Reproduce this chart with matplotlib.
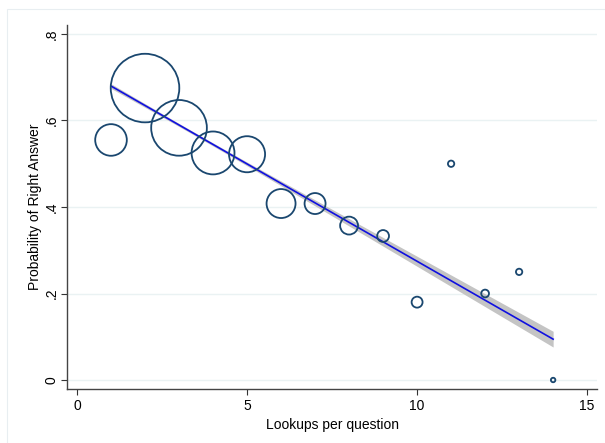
import numpy as np
import matplotlib
matplotlib.use("Agg")
import matplotlib.pyplot as plt
from matplotlib.patches import Rectangle

plt.rcParams["font.family"] = ["Liberation Sans", "DejaVu Sans"]

# lookups per question, share of right answers, and number of questions
lookups = [1, 2, 3, 4, 5, 6, 7, 8, 9, 10, 11, 12, 13, 14]
p_right = [0.555, 0.675, 0.583, 0.525, 0.522, 0.408, 0.408, 0.357, 0.333,
           0.180, 0.500, 0.200, 0.250, 0.000]
n_questions = [50, 235, 155, 92, 65, 42, 22, 16, 7, 6, 2, 3, 2, 1]

x_ticks = [0, 5, 10, 15]
y_ticks = [0, 0.2, 0.4, 0.6, 0.8]
y_ticklabels = ["0", ".2", ".4", ".6", ".8"]

x = np.array(lookups, dtype=float)
y = np.array(p_right)
w = np.array(n_questions, dtype=float)

# weighted linear fit with 95% CI (frequency weights)
N = w.sum()
xbar = (w * x).sum() / N
ybar = (w * y).sum() / N
sxx = (w * (x - xbar) ** 2).sum()
slope = (w * (x - xbar) * (y - ybar)).sum() / sxx
icpt = ybar - slope * xbar
resid = y - (icpt + slope * x)
s2 = (w * resid ** 2).sum() / (N - 2)

xf = np.linspace(x.min(), x.max(), 200)
yf = icpt + slope * xf
hw = 1.96 * np.sqrt(s2 * (1 / N + (xf - xbar) ** 2 / sxx))

fig = plt.figure(figsize=(6.05, 4.43), dpi=100)
fig.patches.append(Rectangle((7 / 605, -0.02), 1.0, 1 - 9 / 443 + 0.02,
                             transform=fig.transFigure, fill=False,
                             edgecolor="#e8eef1", linewidth=0.8))
ax = fig.add_axes([67 / 605, 1 - 389 / 443, 530 / 605, 364 / 443])

ax.fill_between(xf, yf - hw, yf + hw, color="#c4c4c4", linewidth=0, zorder=2)
ax.plot(xf, yf, color="#1010e0", linewidth=1.2, zorder=3)

# bubble area proportional to number of questions
px = 0.72
sizes = w * 20 * px ** 2
ax.scatter(x, y, s=sizes, facecolors="none", edgecolors="#1a476f",
           linewidths=1.3, zorder=4)

ax.set_xlim(-0.294, 15.29)
ax.set_ylim(-0.0208, 0.8208)
ax.set_xticks(x_ticks)
ax.set_yticks(y_ticks)
ax.set_yticklabels(y_ticklabels, rotation=90, va="center")
ax.tick_params(axis="both", direction="out", length=4, width=0.8,
               color="#333333", labelsize=10, labelcolor="black")
ax.tick_params(axis="y", pad=2)
ax.tick_params(axis="x", pad=3)

ax.grid(axis="y", color="#eaf2f3", linewidth=1.0, zorder=0)
ax.set_axisbelow(True)
for side in ["top", "right"]:
    ax.spines[side].set_visible(False)
for side in ["left", "bottom"]:
    ax.spines[side].set_color("#444444")
    ax.spines[side].set_linewidth(1.0)

ax.set_xlabel("Lookups per question", fontsize=10, labelpad=4)
ax.set_ylabel("Probability of Right Answer", fontsize=10, labelpad=2)

fig.savefig("out.png", dpi=100)
